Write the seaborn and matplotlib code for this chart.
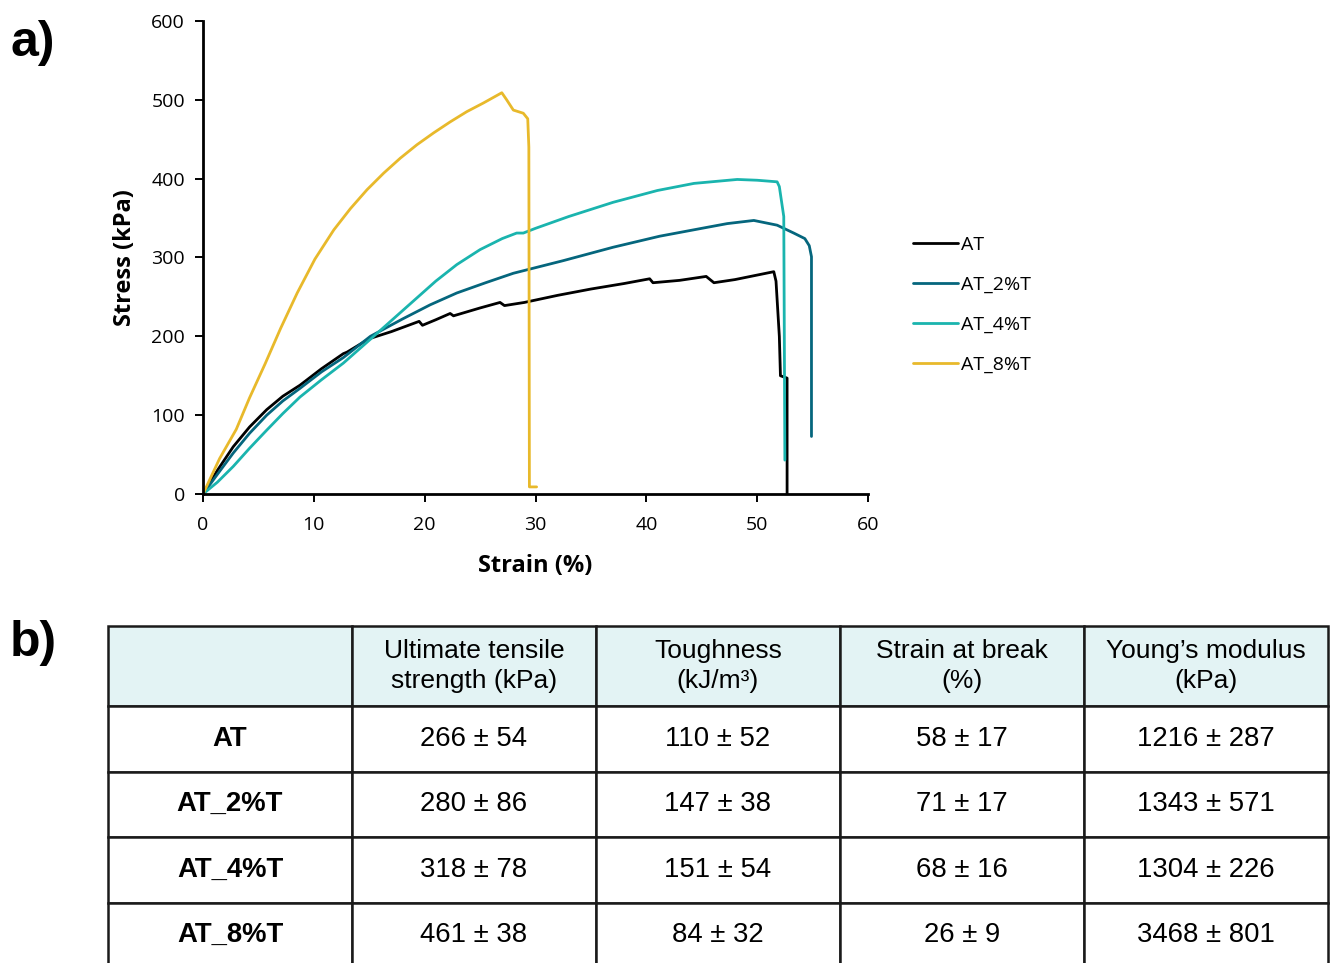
import matplotlib
matplotlib.use("Agg")
import matplotlib.pyplot as plt
import numpy as np
import pandas as pd
import seaborn as sns

# ---------------- data ----------------
samples = ["AT", "AT_2%T", "AT_4%T", "AT_8%T"]
colors = ["#000000", "#05667d", "#1ab4ae", "#e8b92b"]

at_strain = [0, 1.3, 2.73, 4.2, 5.75, 7.2, 8.75, 10.7, 12.66, 13.0, 15.0, 17.0, 19.5, 19.8,
             21.0, 22.3, 22.6, 25.0, 26.8, 27.2, 29.0, 30.0, 32.0, 35.0, 38.0, 40.3,
             40.6, 43.0, 45.4, 46.1, 48.0, 51.5, 51.7, 52.0, 52.1, 52.7, 52.7]
at_stress = [0, 30, 60, 85, 107, 124, 138, 159, 178, 180, 197, 206, 219, 214,
             221, 229, 226, 236, 243, 239, 243, 246, 252, 260, 267, 273,
             268, 271, 276, 268, 272, 282, 270, 200, 150, 147, 0]

at2_strain = [0, 1.3, 2.73, 4.2, 5.75, 7.2, 8.75, 10.7, 12.66, 15.1, 18.0, 20.5, 22.9,
              25.5, 28.0, 32.5, 37.0, 41.2, 45.0, 47.3, 49.7, 51.8, 53.3, 54.3, 54.7,
              54.9, 54.9]
at2_stress = [0, 25, 52, 77, 100, 118, 134, 155, 173, 200, 222, 240, 255,
              268, 280, 296, 313, 327, 337, 343, 347, 341, 331, 324, 315,
              301, 73]

at4_strain = [0, 1.3, 2.73, 4.2, 5.75, 7.2, 8.75, 10.7, 12.66, 15.4, 17.0, 19.0, 21.0,
              22.9, 25.0, 27.0, 28.3, 28.9, 30.0, 33.0, 37.0, 41.0, 44.3, 48.2, 50.0,
              51.8, 52.0, 52.4, 52.5]
at4_stress = [0, 15, 35, 58, 81, 102, 123, 145, 166, 200, 220, 245, 270,
              291, 310, 324, 331, 331, 337, 352, 370, 385, 394, 399, 398,
              396, 390, 352, 43]

at8_strain = [0, 1.5, 3.0, 4.2, 5.6, 7.0, 8.5, 10.1, 11.8, 13.3, 14.8, 16.3, 17.8,
              19.3, 20.8, 22.3, 23.8, 25.3, 26.96, 27.4, 28.0, 28.9, 29.3, 29.4,
              29.45, 30.1]
at8_stress = [0, 45, 82, 122, 165, 210, 255, 298, 335, 362, 386, 407, 426,
              443, 458, 472, 485, 496, 509, 500, 487, 483, 476, 440,
              9, 9]

x_ticks = [0, 10, 20, 30, 40, 50, 60]
y_ticks = [0, 100, 200, 300, 400, 500, 600]

table_header = ["", "Ultimate tensile\nstrength (kPa)", "Toughness\n(kJ/m³)",
                "Strain at break\n(%)", "Young’s modulus\n(kPa)"]
uts = ["266 ± 54", "280 ± 86", "318 ± 78", "461 ± 38"]
toughness = ["110 ± 52", "147 ± 38", "151 ± 54", "84 ± 32"]
strain_break = ["58 ± 17", "71 ± 17", "68 ± 16", "26 ± 9"]
modulus = ["1216 ± 287", "1343 ± 571", "1304 ± 226", "3468 ± 801"]

# ---------------- build long-form frame ----------------
frames = []
for name, xs, ys in zip(samples,
                        [at_strain, at2_strain, at4_strain, at8_strain],
                        [at_stress, at2_stress, at4_stress, at8_stress]):
    frames.append(pd.DataFrame({"strain": xs, "stress": ys, "sample": name}))
df = pd.concat(frames, ignore_index=True)

sns.set_theme(style="ticks")
plt.rcParams["font.family"] = ["Open Sans", "DejaVu Sans"]
plt.rcParams["text.color"] = "black"
plt.rcParams["axes.labelcolor"] = "black"
plt.rcParams["xtick.color"] = "black"
plt.rcParams["ytick.color"] = "black"

W, H = 1330, 963
fig = plt.figure(figsize=(W / 100, H / 100), dpi=100)
ax = fig.add_axes([203 / W, 1 - 494 / H, 665 / W, 473 / H])

sns.lineplot(data=df, x="strain", y="stress", hue="sample", hue_order=samples,
             palette=dict(zip(samples, colors)), sort=False, estimator=None,
             linewidth=2.0, ax=ax)

ax.set_xlim(0, 60)
ax.set_ylim(0, 600)
ax.set_xticks(x_ticks)
ax.set_yticks(y_ticks)
for s in ["top", "right"]:
    ax.spines[s].set_visible(False)
for s in ["left", "bottom"]:
    ax.spines[s].set_linewidth(2.0)
    ax.spines[s].set_color("black")
ax.tick_params(length=6, width=1.4, labelsize=14, color="black", labelcolor="black")
ax.tick_params(axis="x", pad=10)
ax.tick_params(axis="y", pad=7)
ax.set_xlabel("Strain (%)", fontsize=17, fontweight="bold", labelpad=14, color="black")
ax.set_ylabel("Stress (kPa)", fontsize=17, fontweight="bold", labelpad=10, color="black")

handles, labels = ax.get_legend_handles_labels()
leg = ax.legend(handles, labels, loc="center left",
                bbox_to_anchor=(913 / W, 1 - 305 / H), bbox_transform=fig.transFigure,
                frameon=False, handlelength=2.3, handletextpad=0.15, labelspacing=1.13,
                fontsize=14, borderpad=0, borderaxespad=0)
for t in leg.get_texts():
    t.set_color("black")

# ---------------- table ----------------
tax = fig.add_axes([108 / W, -5 / H, 1220 / W, 342 / H])
tax.axis("off")
cell_text = [[s, a, b, c, d] for s, a, b, c, d in
             zip(samples, uts, toughness, strain_break, modulus)]
tbl = tax.table(cellText=cell_text, colLabels=table_header, cellLoc="center",
                bbox=[0, 0, 1, 1])
tbl.auto_set_font_size(False)
for (r, c), cell in tbl.get_celld().items():
    cell.set_edgecolor("#1a1a1a")
    cell.set_linewidth(1.8)
    cell.set_height(80 if r == 0 else 65.5)
    t = cell.get_text()
    t.set_color("black")
    t.set_fontfamily(["Liberation Sans", "DejaVu Sans"])
    if r == 0:
        cell.set_facecolor("#e3f3f4")
        t.set_fontsize(19)
        t.set_linespacing(1.3)
    else:
        cell.set_facecolor("white")
        t.set_fontsize(19.8)
        if c == 0:
            t.set_fontweight("bold")

# panel labels
fig.text(10 / W, 1 - 43 / H, "a)", fontsize=36, fontweight="bold", va="center",
         family=["Liberation Sans", "DejaVu Sans"], color="black")
fig.text(10 / W, 1 - 643 / H, "b)", fontsize=36, fontweight="bold", va="center",
         family=["Liberation Sans", "DejaVu Sans"], color="black")

fig.savefig("out.png", dpi=100)
